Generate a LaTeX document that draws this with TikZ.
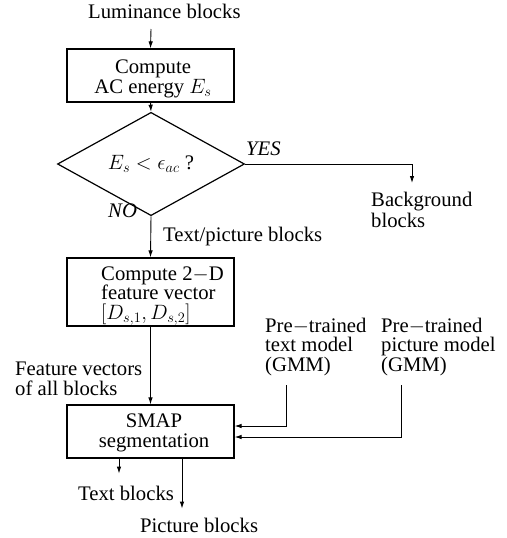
\documentclass[tikz,border=0pt]{standalone}
\usepackage{fontspec}
\setmainfont{Liberation Serif}
\usetikzlibrary{shapes.geometric,arrows.meta}
\newcommand{\myfs}{\fontsize{20.7}{19.5}\selectfont}
\begin{document}
\begin{tikzpicture}[x=1pt,y=-1pt,
  every node/.style={font=\myfs, inner sep=0pt},
  box/.style={draw, line width=1.2pt, minimum width=167pt},
  dec/.style={draw, diamond, line width=1.2pt, minimum width=187pt, minimum height=82pt},
  lbl/.style={align=left, anchor=base west},
  ctr/.style={align=center, anchor=base},
  ital/.style={font=\myfs\itshape},
  arr/.style={line width=0.9pt, -{Latex[length=7pt,width=4.5pt]}},
  ln/.style={line width=0.9pt}]
\useasboundingbox (0,0) rectangle (506,538);

% nodes (base anchor of a multi-line node = last line's baseline)
\node[lbl] (lum) at (88,19) {Luminance blocks};
\coordinate (lumout) at (151,29);

\node[box, minimum height=53pt] (b1) at (150.5,75.5) {};
\node[ctr] (b1t) at (153,93) {Compute\\AC energy $E_s$};

\node[dec] (d) at (151,164) {$E_s<\epsilon_{ac}$ ?};
\node[lbl, ital] (yes) at (246,155) {YES};
\node[lbl, ital] (no) at (108,217) {NO};
\coordinate (corner) at (412,164);
\coordinate (bgin) at (412,183);
\node[lbl, font=\fontsize{20.7}{21}\selectfont] (bg) at (371,227) {Background\\blocks};

\node[lbl] (tp) at (163,241) {Text/picture blocks};

\node[box, minimum height=68pt] (b2) at (150.5,292) {};
\node[lbl] (b2t) at (101,319) {Compute 2$-$D\\feature vector\\$[D_{s,1},D_{s,2}]$};

\node[lbl] (fv) at (15,395) {Feature vectors\\of all blocks};
\node[lbl] (tm) at (265,371) {Pre$-$trained\\text model\\(GMM)};
\node[lbl] (pm) at (381,371) {Pre$-$trained\\picture model\\(GMM)};
\coordinate (tmo) at (286,385);
\coordinate (pmo) at (401,385);

\node[box, minimum height=53pt] (b3) at (150.5,431.5) {};
\node[ctr] (b3t) at (154,447) {SMAP\\segmentation};

\node[lbl] (tb) at (78,500) {Text blocks};
\node[lbl] (pb) at (140,532) {Picture blocks};

% connectors
\draw[arr] (lumout) -- (b1.north);
\draw[arr] (b1.south) -- (d.north);
\draw[arr] (d.east) -- (corner) -- (bgin);
\draw[arr] (d.south) -- (b2.north);
\draw[arr] (b2.south) -- (b3.north);
\draw[arr] (tmo) |- ([yshift=5.5pt]b3.east);
\draw[arr] (pmo) |- ([yshift=-5.5pt]b3.east);
\draw[arr] ([xshift=-31.5pt]b3.south) -- ++(0,15);
\draw[arr] ([xshift=31.5pt]b3.south) -- ++(0,50);
\end{tikzpicture}
\end{document}
